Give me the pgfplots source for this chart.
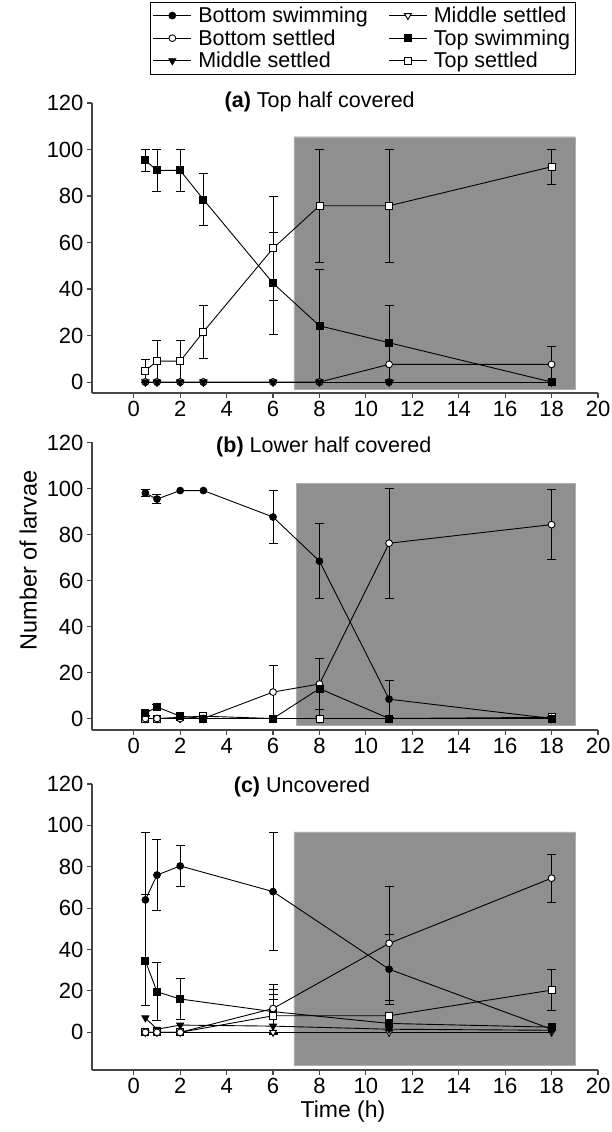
\documentclass[border=0pt]{standalone}
\usepackage{fontspec}
\setmainfont{Liberation Sans}
\usepackage{pgfplots}
\pgfplotsset{compat=1.18}

\definecolor{shade}{RGB}{143,143,143}
\definecolor{shadeedge}{RGB}{175,175,175}
\definecolor{axgray}{RGB}{70,70,70}

\pgfplotsset{
  panel/.style={
    scale only axis, width=506pt,
    xmin=-1.8, xmax=20, ymax=120,
    axis lines=left, axis line style={-, axgray, line width=1.2pt},
    xtick={0,2,...,20}, ytick={0,20,...,120},
    tick align=outside, major tick length=5pt,
    tick style={axgray, line width=1.1pt},
    tick label style={font=\fontsize{22}{24}\selectfont},
    /pgf/number format/assume math mode=true,
    title style={font=\fontsize{21.5}{23}\selectfont, anchor=center},
    error bars/error bar style={black, line width=0.9pt},
    error bars/error mark options={rotate=90, mark size=4.5pt, line width=0.9pt},
    clip=false,
  },
  eb/.style={error bars/y dir=both, error bars/y explicit},
  base/.style={black, line width=0.9pt},
  bsw/.style={base, mark=*, mark size=3.4pt, mark options={solid, fill=black}},
  bst/.style={base, mark=*, mark size=3.4pt, mark options={solid, fill=white}},
  msw/.style={base, mark=triangle*, mark size=4pt, mark options={solid, rotate=180, fill=black}},
  mst/.style={base, mark=triangle*, mark size=4pt, mark options={solid, rotate=180, fill=white}},
  tsw/.style={base, mark=square*, mark size=3.5pt, mark options={solid, fill=black}},
  tst/.style={base, mark=square*, mark size=3.5pt, mark options={solid, fill=white}},
}

\begin{document}
\begin{tikzpicture}
\useasboundingbox (0,0) rectangle (611pt,1132pt);

% (a) Top half covered
\begin{axis}[panel, at={(92pt,739pt)}, anchor=south west, height=290pt, ymin=-4.7,
  title={\textbf{(a)} Top half covered},
  title style={at={(axis description cs:0.45,0.983)}},
  legend columns=2, legend cell align=left,
  legend style={at={(axis description cs:0.535,1)}, anchor=south, yshift=29pt,
    draw=black, font=\fontsize{21.5}{23}\selectfont, row sep=0.5pt,
    nodes={inner sep=2.5pt},
    /tikz/every odd column/.append style={column sep=4pt},
    /tikz/every even column/.append style={column sep=18pt}},
  legend image code/.code={\draw[mark repeat=2, mark phase=2, #1] plot coordinates {(0pt,0pt) (19pt,0pt) (38pt,0pt)};},
]
\addplot[fill=shade, draw=shadeedge, forget plot] coordinates {(6.9,-3) (19,-3) (19,105.5) (6.9,105.5) (6.9,-3)};
\addplot[bsw] coordinates {(0.5,0) (1,0) (2,0) (3,0) (6,0) (8,0) (11,0) (18,0)};
\addplot[mst] coordinates {(0.5,0) (1,0) (2,0) (3,0) (6,0) (8,0) (11,0) (18,0)};
\addplot[bst, eb] coordinates {(0.5,0) (1,0) (2,0) (3,0) (6,0) (8,0) (11,7.6) (18,7.6) +- (0,7.6)};
\addplot[tsw, eb] coordinates {(0.5,95.3) +- (0,4.6) (1,91) +- (0,9) (2,91) +- (0,9) (3,78.5) +- (0,11.3)
  (6,42.5) +- (0,22) (8,24.2) +- (0,24.3) (11,16.9) +- (0,16.2) (18,0)};
\addplot[msw] coordinates {(0.5,0) (1,0) (2,0) (3,0) (6,0) (8,0) (11,0) (18,0)};
\addplot[tst, eb] coordinates {(0.5,4.9) +- (0,5) (1,9) +- (0,9) (2,9) +- (0,9) (3,21.6) +- (0,11.3)
  (6,57.5) +- (0,22.2) (8,75.8) +- (0,24.2) (11,75.8) +- (0,24.2) (18,92.6) +- (0,7.5)};
\legend{Bottom swimming, Middle settled, Bottom settled, Top swimming, Middle settled, Top settled}
\end{axis}

% (b) Lower half covered
\begin{axis}[panel, at={(92pt,402pt)}, anchor=south west, height=287.5pt, ymin=-5,
  title={\textbf{(b)} Lower half covered},
  title style={at={(axis description cs:0.458,0.964)}},
  ylabel={Number of larvae},
  ylabel style={at={(axis description cs:-0.126,0.59)}, anchor=center, font=\fontsize{23.5}{25}\selectfont},
]
\addplot[fill=shade, draw=shadeedge, forget plot] coordinates {(7,-3) (19,-3) (19,102.3) (7,102.3) (7,-3)};
\addplot[mst] coordinates {(0.5,0) (1,0) (2,0) (3,0) (6,0) (8,0) (11,0) (18,0)};
\addplot[msw] coordinates {(0.5,0) (1,0) (2,0) (3,0) (6,0) (8,0) (11,0) (18,0)};
\addplot[tst] coordinates {(0.5,0) (1,0) (2,0.5) (3,1) (6,0) (8,0) (11,0) (18,0.5)};
\addplot[bst, eb] coordinates {(0.5,0) (1,0) (2,0) (3,0) (6,11.5) +- (0,11.5) (8,15) +- (0,11)
  (11,76.2) +- (0,23.8) (18,84.3) +- (0,15.3)};
\addplot[tsw, eb] coordinates {(0.5,2.3) +- (0,1) (1,5) +- (0,1) (2,1) (3,0) (6,0) (8,13) +- (0,13) (11,0) (18,0)};
\addplot[bsw, eb] coordinates {(0.5,98) +- (0,1.5) (1,95.4) +- (0,2) (2,99.1) (3,99.1)
  (6,87.6) +- (0,11.4) (8,68.4) +- (0,16.3) (11,8.4) +- (0,8) (18,0)};
\end{axis}

% (c) Uncovered
\begin{axis}[panel, at={(92pt,62pt)}, anchor=south west, height=286pt, ymin=-18.2,
  title={\textbf{(c)} Uncovered},
  title style={at={(axis description cs:0.415,0.969)}},
  xlabel={Time (h)},
  xlabel style={at={(axis description cs:0.496,-0.147)}, anchor=center, font=\fontsize{23}{25}\selectfont},
]
\addplot[fill=shade, draw=shadeedge, forget plot] coordinates {(6.9,-16) (19,-16) (19,96.9) (6.9,96.9) (6.9,-16)};
\addplot[mst] coordinates {(0.5,0) (1,0) (2,0) (6,0) (11,0) (18,0)};
\addplot[msw, eb] coordinates {(0.5,7) (1,1.5) (2,3.5) (6,3) += (0,15.4) -= (0,3) (11,1.5) (18,1)};
\addplot[tsw, eb] coordinates {(0.5,34.5) += (0,32) -= (0,21.5) (1,19.6) +- (0,14) (2,16.1) +- (0,10)
  (6,10) +- (0,10.8) (11,4.3) (18,2.5)};
\addplot[tst, eb] coordinates {(0.5,0) (1,0) (2,0) (6,8) +- (0,8) (11,8) (18,20.4) +- (0,10)};
\addplot[bst, eb] coordinates {(0.5,0) (1,0) (2,0) (6,11.5) +- (0,11.8) (11,43) +- (0,27.5) (18,74.5) +- (0,11.5)};
\addplot[bsw, eb] coordinates {(0.5,64) += (0,32.4) -= (0,51) (1,76) +- (0,17) (2,80.4) +- (0,9.8)
  (6,68) +- (0,28.5) (11,30.5) +- (0,17) (18,1.5)};
\end{axis}
\end{tikzpicture}
\end{document}
